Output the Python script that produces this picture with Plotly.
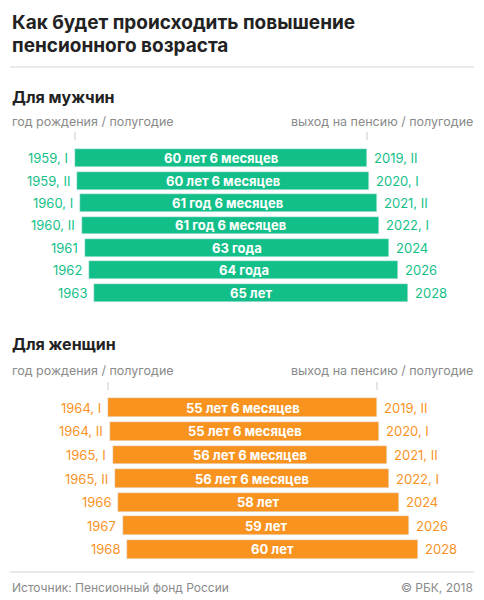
import plotly.graph_objects as go

men_birth_lbl = ["1959, I", "1959, II", "1960, I", "1960, II", "1961", "1962", "1963"]
men_birth = [1959.0, 1959.5, 1960.0, 1960.5, 1961.0, 1962.0, 1963.0]
men_age = [60.5, 60.5, 61.5, 61.5, 63, 64, 65]
men_age_lbl = ["60 лет 6 месяцев", "60 лет 6 месяцев", "61 год 6 месяцев", "61 год 6 месяцев",
               "63 года", "64 года", "65 лет"]
men_ret_lbl = ["2019, II", "2020, I", "2021, II", "2022, I", "2024", "2026", "2028"]

wom_birth_lbl = ["1964, I", "1964, II", "1965, I", "1965, II", "1966", "1967", "1968"]
wom_birth = [1964.0, 1964.5, 1965.0, 1965.5, 1966.0, 1967.0, 1968.0]
wom_age = [55.5, 55.5, 56.5, 56.5, 58, 59, 60]
wom_age_lbl = ["55 лет 6 месяцев", "55 лет 6 месяцев", "56 лет 6 месяцев", "56 лет 6 месяцев",
               "58 лет", "59 лет", "60 лет"]
wom_ret_lbl = ["2019, II", "2020, I", "2021, II", "2022, I", "2024", "2026", "2028"]

GREEN = "#13bf88"
ORANGE = "#f9931f"
FONT = "Inter"
OFF = 8
W = 476
H = 592

fig = go.Figure()
ann = []

def add(birth, age, age_lbl, blbl, rlbl, color, xa, ya):
    fig.add_trace(go.Bar(y=list(range(len(birth))), x=age, base=birth, orientation="h",
                         marker_color=color, width=0.8, xaxis=xa, yaxis=ya, hoverinfo="skip"))
    for i in range(len(birth)):
        ann.append(dict(x=birth[i] + age[i] / 2, y=i, xref=xa, yref=ya, text=age_lbl[i],
                        showarrow=False, font=dict(color="white", size=13, family=FONT, weight="bold")))
        ann.append(dict(x=birth[i], y=i, xref=xa, yref=ya, text=blbl[i], xanchor="right",
                        xshift=-5, showarrow=False, font=dict(color=color, size=13, family=FONT)))
        ann.append(dict(x=birth[i] + age[i], y=i, xref=xa, yref=ya, text=rlbl[i], xanchor="left",
                        xshift=5, showarrow=False, font=dict(color=color, size=13, family=FONT)))

add(men_birth, men_age, men_age_lbl, men_birth_lbl, men_ret_lbl, GREEN, "x", "y")
add(wom_birth, wom_age, wom_age_lbl, wom_birth_lbl, wom_ret_lbl, ORANGE, "x2", "y2")

def py(p):
    return 1 - (p - OFF) / H

def px(p):
    return (p - OFF) / W

def txt(x, ypx, s, size, color="#222", bold=False, anchor="left"):
    ann.append(dict(x=px(x), y=py(ypx), xref="paper", yref="paper", text=s, showarrow=False,
                    xanchor=anchor, yanchor="middle",
                    font=dict(size=size, color=color, family=FONT, weight="bold" if bold else "normal")))

txt(10, 22, "Как будет происходить повышение", 19, bold=True)
txt(10, 46, "пенсионного возраста", 19, bold=True)
txt(10, 97, "Для мужчин", 16, bold=True)
txt(10, 121, "год рождения / полугодие", 12.5, "#8a8a8a")
txt(475, 121, "выход на пенсию / полугодие", 12.5, "#8a8a8a", anchor="right")
txt(10, 344, "Для женщин", 16, bold=True)
txt(10, 370, "год рождения / полугодие", 12.5, "#8a8a8a")
txt(475, 370, "выход на пенсию / полугодие", 12.5, "#8a8a8a", anchor="right")
txt(10, 587, "Источник: Пенсионный фонд России", 12, "#8a8a8a")
txt(475, 587, "© РБК, 2018", 12, "#8a8a8a", anchor="right")

shapes = []
for y0 in [67, 572]:
    shapes.append(dict(type="line", xref="paper", yref="paper", x0=px(10), x1=px(474),
                       y0=py(y0), y1=py(y0), line=dict(color="#d5d5d5", width=1)))
for xp, yp in [(75, 136), (367, 136), (108, 386), (377, 386)]:
    shapes.append(dict(type="line", xref="paper", yref="paper", x0=px(xp), x1=px(xp),
                       y0=py(yp - 4), y1=py(yp + 4), line=dict(color="#cccccc", width=1)))

s1 = 292 / 60.5
x0m = 1959 - (75 - OFF) / s1
s2 = 269 / 55.5
x0w = 1964 - (108 - OFF) / s2

ax = dict(showgrid=False, zeroline=False, showticklabels=False, fixedrange=True)
fig.update_layout(
    width=W, height=H, margin=dict(l=0, r=0, t=0, b=0),
    plot_bgcolor="white", paper_bgcolor="white", showlegend=False,
    xaxis=dict(range=[x0m, x0m + W / s1], domain=[0, 1], anchor="y", **ax),
    yaxis=dict(range=[6.5, -0.5], domain=[py(304), py(147)], anchor="x", **ax),
    xaxis2=dict(range=[x0w, x0w + W / s2], domain=[0, 1], anchor="y2", **ax),
    yaxis2=dict(range=[6.5, -0.5], domain=[py(561), py(396)], anchor="x2", **ax),
    annotations=ann, shapes=shapes, bargap=0,
)
fig.write_html("out.html")
